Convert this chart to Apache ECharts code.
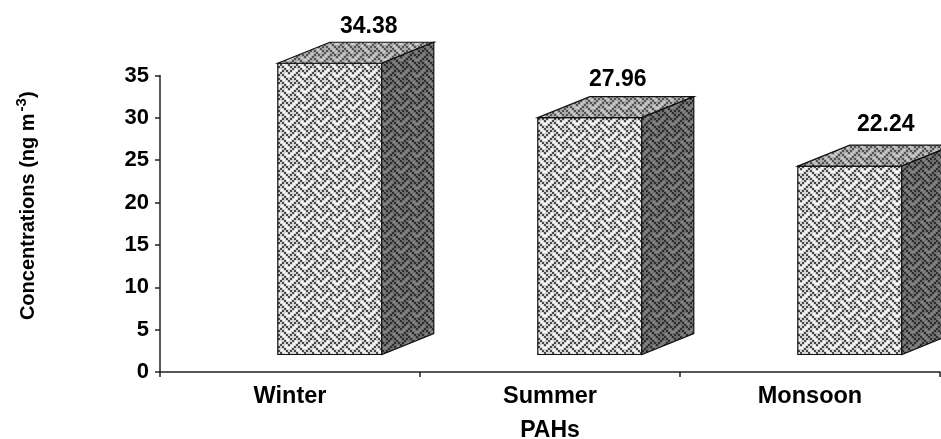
<!DOCTYPE html>
<html>
<head>
<meta charset="utf-8">
<style>
  html, body { margin: 0; padding: 0; background: #fff; }
  #main { width: 941px; height: 439px; }
</style>
<script src="https://cdn.jsdelivr.net/npm/echarts@6/dist/echarts.min.js"></script>
</head>
<body>
<div id="main"></div>
<script>
// 数据
const categories = ["Winter", "Summer", "Monsoon"];
const values = [34.38, 27.96, 22.24];
const yTicks = { min: 0, max: 35, interval: 5 };

// 数值标签相对柱子正面左上角的偏移
const labelDx = [91, 80, 88];
const labelDy = [-37, -38, -41];

const FONT = '"Liberation Sans", Arial, sans-serif';
// 3D柱子的进深
const DEPTH_X = 52;
const DEPTH_Y = 21;
const FLOOR = 17.5;

// weave 填充图案，8x8 位图放大2倍，外面加一圈灰色模拟原图的模糊
const WEAVE = [0x88, 0x54, 0x22, 0x45, 0x88, 0x14, 0x22, 0x51];
function weave(bg, halo, fg) {
  const c = document.createElement("canvas");
  c.width = 16;
  c.height = 16;
  const ctx = c.getContext("2d");
  ctx.fillStyle = bg;
  ctx.fillRect(0, 0, 16, 16);
  const paint = (color, grow) => {
    ctx.fillStyle = color;
    for (let y = 0; y < 8; y++) {
      for (let x = 0; x < 8; x++) {
        if (!(WEAVE[y] & (0x80 >> x))) continue;
        for (const ox of [-16, 0, 16]) {
          for (const oy of [-16, 0, 16]) {
            ctx.fillRect(x * 2 - grow + ox, y * 2 - grow + oy, 2 + grow * 2, 2 + grow * 2);
          }
        }
      }
    }
  };
  paint(halo, 1);
  paint(fg, 0);
  return c;
}
const frontFill = { image: weave("#ffffff", "#d4d4d4", "#484848"), repeat: "repeat" };
const topFill = { image: weave("#cccccc", "#aaaaaa", "#525252"), repeat: "repeat" };
const sideFill = { image: weave("#868686", "#6c6c6c", "#2e2e2e"), repeat: "repeat" };

function renderBar(params, api) {
  const i = api.value(0);
  const top = api.coord([i, api.value(1)]);
  const base = api.coord([i, 0]);
  const band = api.size([1, 0])[0];
  const x0 = top[0] - band * 0.047;
  const x1 = x0 + band * 0.4;
  const y0 = top[1] - FLOOR;
  const y1 = base[1] - FLOOR;
  const line = { stroke: "#111", lineWidth: 1.2 };
  return {
    type: "group",
    children: [
      {
        type: "polygon",
        shape: { points: [[x0, y0], [x1, y0], [x1, y1], [x0, y1]] },
        style: { fill: frontFill, ...line }
      },
      {
        type: "polygon",
        shape: { points: [[x0, y0], [x0 + DEPTH_X, y0 - DEPTH_Y], [x1 + DEPTH_X, y0 - DEPTH_Y], [x1, y0]] },
        style: { fill: topFill, ...line }
      },
      {
        type: "polygon",
        shape: { points: [[x1, y0], [x1 + DEPTH_X, y0 - DEPTH_Y], [x1 + DEPTH_X, y1 - DEPTH_Y], [x1, y1]] },
        style: { fill: sideFill, ...line }
      },
      {
        type: "text",
        style: {
          x: x0 + labelDx[i],
          y: y0 + labelDy[i],
          text: api.value(1).toFixed(2),
          fill: "#000",
          font: "bold 23px " + FONT,
          align: "center",
          verticalAlign: "middle"
        }
      }
    ]
  };
}

const myChart = echarts.init(document.getElementById("main"), null, { renderer: "canvas" });
const option = {
  animation: false,
  backgroundColor: "#fff",
  textStyle: { fontFamily: FONT },
  grid: { left: 160, right: 1, top: 75.5, bottom: 67, outerBoundsMode: "none" },
  xAxis: {
    type: "category",
    data: categories,
    name: "PAHs",
    nameLocation: "middle",
    nameGap: 59,
    nameTextStyle: { color: "#000", fontSize: 23, fontWeight: "bold", fontFamily: FONT, verticalAlign: "middle" },
    axisLine: { show: true, lineStyle: { color: "#222", width: 1.5 } },
    axisTick: { show: true, alignWithLabel: false, length: 5, lineStyle: { color: "#222", width: 1.5 } },
    axisLabel: { color: "#000", fontSize: 23.5, fontWeight: "bold", fontFamily: FONT, margin: 13 },
    splitLine: { show: false }
  },
  yAxis: {
    type: "value",
    min: yTicks.min,
    max: yTicks.max,
    interval: yTicks.interval,
    name: "{a|Concentrations (ng m}{s|-3}{a|)}",
    nameLocation: "middle",
    nameGap: 117,
    nameRotate: 90,
    nameTextStyle: {
      padding: [0, 0, 0, 36],
      rich: {
        a: { color: "#000", fontSize: 20, fontWeight: "bold", fontFamily: FONT },
        s: { color: "#000", fontSize: 15, fontWeight: "bold", fontFamily: FONT, verticalAlign: "top", padding: [0, 0, 14, 2] }
      }
    },
    axisLine: { show: true, lineStyle: { color: "#222", width: 1.5 } },
    axisTick: { show: true, length: 5, lineStyle: { color: "#222", width: 1.5 } },
    axisLabel: { color: "#000", fontSize: 22, fontWeight: "bold", fontFamily: FONT, margin: 11 },
    splitLine: { show: false }
  },
  series: [
    {
      type: "custom",
      renderItem: renderBar,
      data: categories.map((c, i) => [i, values[i]]),
      encode: { x: 0, y: 1 },
      clip: false
    }
  ]
};
myChart.setOption(option);
</script>
</body>
</html>
